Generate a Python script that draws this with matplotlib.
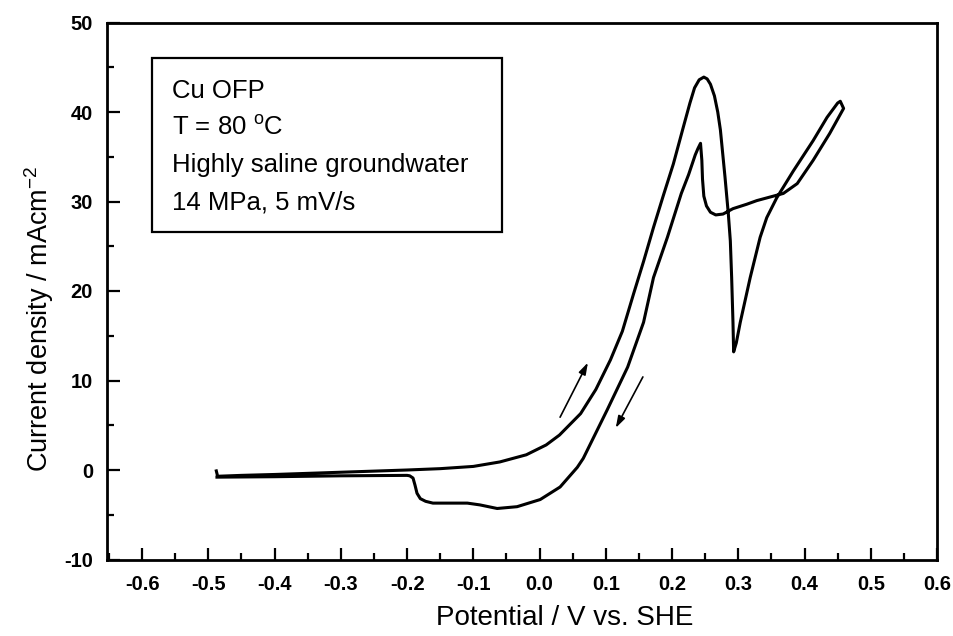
import matplotlib
matplotlib.use('Agg')
import matplotlib.pyplot as plt
from matplotlib.patches import Rectangle
from matplotlib.ticker import MultipleLocator, FormatStrFormatter

plt.rcParams['font.family'] = ['Liberation Sans', 'DejaVu Sans']
plt.rcParams['mathtext.fontset'] = 'custom'
plt.rcParams['mathtext.rm'] = 'Liberation Sans'
plt.rcParams['mathtext.it'] = 'Liberation Sans:italic'
plt.rcParams['mathtext.bf'] = 'Liberation Sans:bold'
plt.rcParams['axes.unicode_minus'] = False

# прямая развертка (вперед)
e_fwd = [-0.488, -0.486, -0.45, -0.40, -0.30, -0.20, -0.15, -0.10, -0.06, -0.02,
         0.01, 0.03, 0.062, 0.085, 0.107, 0.125, 0.142, 0.157, 0.172, 0.187,
         0.202, 0.217, 0.227, 0.234, 0.241, 0.248, 0.253, 0.258, 0.264, 0.269,
         0.273, 0.280, 0.285, 0.288, 0.290, 0.292, 0.293, 0.297, 0.303, 0.318,
         0.333, 0.343, 0.358, 0.368, 0.383, 0.413, 0.434, 0.450, 0.454]
i_fwd = [-0.1, -0.7, -0.6, -0.5, -0.25, 0.0, 0.15, 0.4, 0.9, 1.7,
         2.8, 3.9, 6.3, 9.0, 12.3, 15.5, 19.7, 23.3, 27.1, 30.7,
         34.2, 38.3, 41.0, 42.7, 43.6, 43.9, 43.7, 43.1, 41.8, 40.0,
         38.0, 32.7, 28.6, 25.6, 21.5, 16.5, 13.2, 14.2, 16.5, 21.5,
         26.0, 28.2, 30.4, 31.6, 33.4, 36.8, 39.4, 41.0, 41.2]

# обратная развертка
e_rev = [0.454, 0.459, 0.438, 0.413, 0.389, 0.368, 0.343, 0.328, 0.313, 0.292,
         0.277, 0.266, 0.258, 0.252, 0.248, 0.246, 0.245, 0.243, 0.239, 0.235,
         0.225, 0.214, 0.193, 0.172, 0.157, 0.133, 0.102, 0.066, 0.057, 0.031,
         0.001, -0.034, -0.064, -0.09, -0.109, -0.161, -0.172, -0.180, -0.185, -0.188,
         -0.191, -0.196, -0.20, -0.30, -0.40, -0.487]
i_rev = [41.2, 40.4, 37.6, 34.6, 32.0, 30.9, 30.4, 30.1, 29.7, 29.2,
         28.6, 28.5, 28.8, 29.5, 30.6, 32.5, 34.6, 36.5, 35.9, 35.2,
         33.0, 30.9, 26.0, 21.5, 16.5, 11.5, 6.7, 1.3, 0.3, -1.9,
         -3.3, -4.1, -4.3, -3.9, -3.7, -3.7, -3.5, -3.2, -2.6, -1.7,
         -0.9, -0.65, -0.6, -0.65, -0.75, -0.8]

# стрелки направления развертки: (откуда, куда)
arrow_up = [(0.031, 5.9), (0.073, 12.0)]
arrow_down = [(0.156, 10.4), (0.115, 4.7)]

info_lines = ['Cu OFP', r'T = 80 $^{\mathrm{o}}$C', 'Highly saline groundwater', '14 MPa, 5 mV/s']

fig = plt.figure(figsize=(9.54, 6.36), dpi=100)
ax = fig.add_axes([107/954, 1 - 559.5/636, 830/954, 537/636])

ax.plot(e_fwd + e_rev, i_fwd + i_rev, color='black', lw=2.2, solid_joinstyle='round')

for a in (arrow_up, arrow_down):
    ax.annotate('', xy=a[1], xytext=a[0],
                arrowprops=dict(arrowstyle='-|>,head_length=0.7,head_width=0.22',
                                color='black', lw=1.2, shrinkA=0, shrinkB=0))

ax.set_xlim(-0.653, 0.6)
ax.set_ylim(-10, 50)
ax.xaxis.set_major_locator(MultipleLocator(0.1))
ax.xaxis.set_minor_locator(MultipleLocator(0.05))
ax.yaxis.set_major_locator(MultipleLocator(10))
ax.yaxis.set_minor_locator(MultipleLocator(5))
ax.xaxis.set_major_formatter(FormatStrFormatter('%.1f'))
ax.yaxis.set_major_formatter(FormatStrFormatter('%d'))

ax.tick_params(which='both', direction='in', width=1.6, top=False, right=False,
               labelsize=14.5)
ax.tick_params(which='major', length=9)
ax.tick_params(which='minor', length=5)
ax.tick_params(axis='x', pad=11)
ax.tick_params(axis='y', pad=10)
for lab in ax.get_xticklabels() + ax.get_yticklabels():
    lab.set_fontweight('bold')
for s in ax.spines.values():
    s.set_linewidth(2)

ax.set_xlabel('Potential / V vs. SHE', fontsize=20)
ax.xaxis.set_label_coords(0.552, -0.0847)
ax.set_ylabel(r'Current density / mAcm$^{\mathrm{-2}}$', fontsize=19.5)
ax.yaxis.set_label_coords(-0.061, 0.448)

ax.add_patch(Rectangle((0.054, 0.61), 0.422, 0.324, transform=ax.transAxes,
                       fill=False, ec='black', lw=1.6))
line_y = [0.859, 0.790, 0.722, 0.651]
for txt, yy in zip(info_lines, line_y):
    ax.text(0.078, yy, txt, transform=ax.transAxes, fontsize=18.5, va='baseline', ha='left')

fig.savefig('out.png', dpi=100)
